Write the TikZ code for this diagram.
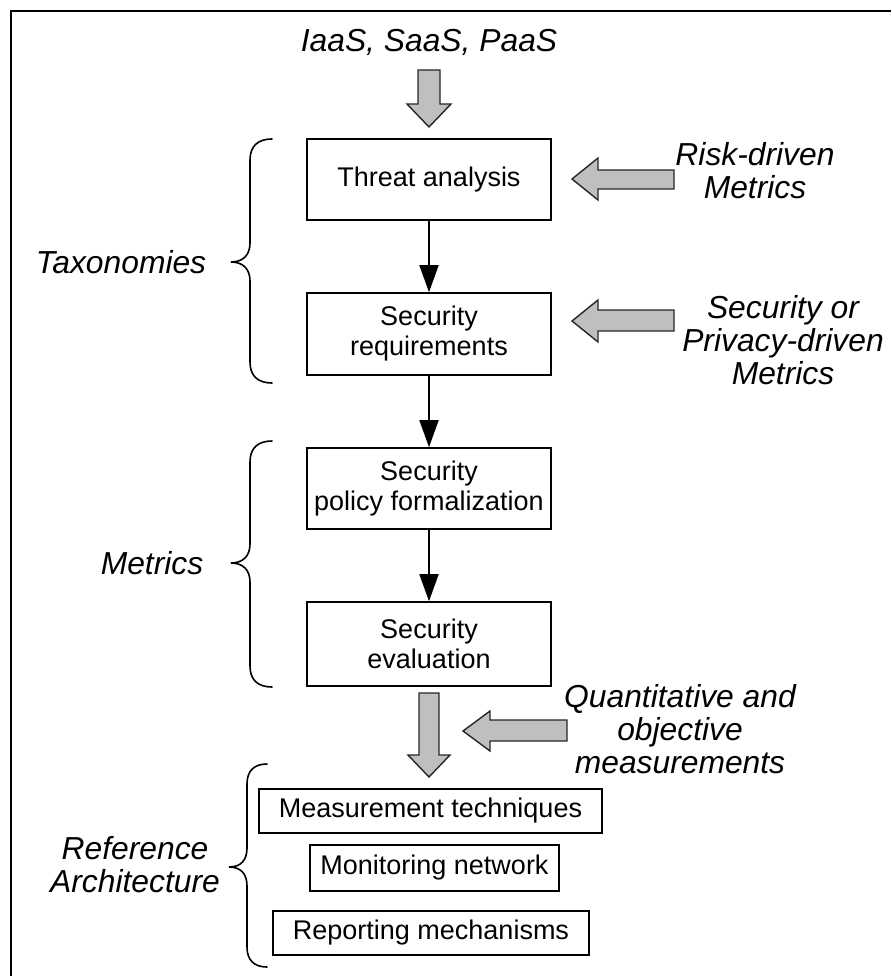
\documentclass[tikz,border=0pt]{standalone}
\usepackage{fontspec}
\setmainfont{Liberation Sans}
\usetikzlibrary{arrows.meta}
\begin{document}
\begin{tikzpicture}[x=1pt,y=-1pt,
  stepbox/.style={draw=black,line width=1.6pt,inner sep=0pt,align=center,
    font=\fontsize{27}{30}\selectfont},
  tag/.style={align=center,inner sep=0pt,font=\fontsize{31.8}{33}\selectfont\itshape},
  flow/.style={line width=1.8pt,-{Triangle[length=27pt,width=19pt]}},
  fat/.style={fill=black!25,draw=black!85,line width=1.4pt,line join=miter},
  curly/.style={line width=1.6pt,line cap=round}]
\useasboundingbox (0,0) rectangle (891,976);

% outer frame (top and left edges)
\draw[line width=2.2pt] (891,11) -- (11,11) -- (11,976);

% process boxes
\node[stepbox,minimum width=244pt,minimum height=81pt] (threat) at (429,179.5) {Threat analysis};
\node[stepbox,minimum width=244pt,minimum height=82pt] (req) at (429,334) {Security\\requirements};
\node[stepbox,minimum width=244pt,minimum height=81pt] (policy) at (429,488.5) {Security\\policy formalization};
\node[stepbox,minimum width=244pt,minimum height=84pt] (eval) at (429,644) {Security\\evaluation};

% reference architecture boxes
\node[stepbox,minimum width=343pt,minimum height=44pt] (meas) at (430.5,811) {Measurement techniques};
\node[stepbox,minimum width=249pt,minimum height=46pt] (mon) at (434.5,868) {Monitoring network};
\node[stepbox,minimum width=316pt,minimum height=44pt] (rep) at (431,933) {Reporting mechanisms};

% italic labels
\node[tag] (svc) at (429,42) {IaaS, SaaS, PaaS};
\node[tag] (risk) at (755,171) {Risk-driven\\Metrics};
\node[tag] (priv) at (783,340) {Security or\\Privacy-driven\\Metrics};
\node[tag] (quant) at (680,729) {Quantitative and\\objective\\measurements};
\node[tag] (tax) at (121,262) {Taxonomies};
\node[tag] (met) at (152,563) {Metrics};
\node[tag] (refarch) at (135,865) {Reference\\Architecture};

% flow between the process boxes
\draw[flow] (threat) -- (req);
\draw[flow] (req) -- (policy);
\draw[flow] (policy) -- (eval);

% broad grey arrows
\draw[fat] (418,70) -- (440,70) -- (440,104) -- (451,104) -- (429,127) -- (407,104) -- (418,104) -- cycle;
\draw[fat] (419,693) -- (439,693) -- (439,755) -- (450,755) -- (429,777) -- (408,755) -- (419,755) -- cycle;
\draw[fat] (674,170) -- (598,170) -- (598,158) -- (572,179) -- (598,200) -- (598,189) -- (674,189) -- cycle;
\draw[fat] (674,310) -- (598,310) -- (598,300) -- (572,321) -- (598,342) -- (598,331) -- (674,331) -- cycle;
\draw[fat] (567,720) -- (490,720) -- (490,711) -- (463,731) -- (490,751) -- (490,741) -- (567,741) -- cycle;

% curly braces grouping the stages
\draw[curly] (272,139) .. controls (258,139) and (250,146) .. (250,160) -- (250,243)
  .. controls (250,255) and (243,262) .. (231,262)
  .. controls (243,262) and (250,269) .. (250,281) -- (250,362)
  .. controls (250,376) and (258,383) .. (272,383);
\draw[curly] (272,441) .. controls (258,441) and (250,448) .. (250,462) -- (250,544)
  .. controls (250,556) and (243,563) .. (231,563)
  .. controls (243,563) and (250,570) .. (250,582) -- (250,666)
  .. controls (250,680) and (258,687) .. (272,687);
\draw[curly] (267,764) .. controls (254,764) and (247,771) .. (247,784) -- (247,848)
  .. controls (247,860) and (241,867) .. (229,867)
  .. controls (241,867) and (247,874) .. (247,886) -- (247,947)
  .. controls (247,960) and (254,967) .. (267,967);
\end{tikzpicture}
\end{document}
